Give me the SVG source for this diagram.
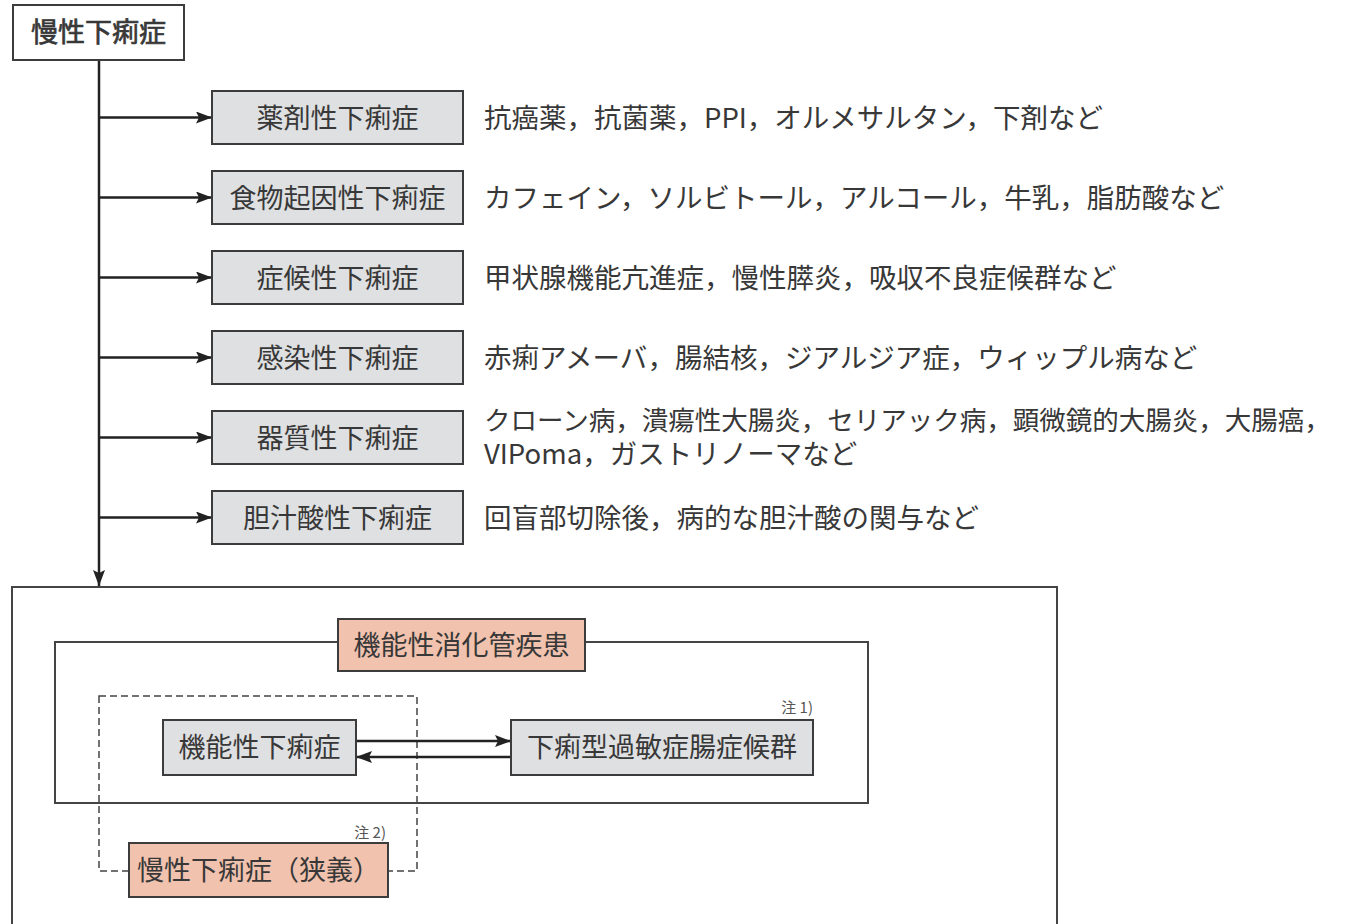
<svg xmlns="http://www.w3.org/2000/svg" width="1348" height="924" viewBox="0 0 1348 924">
<defs>
<style>
.t{font-family:"Noto Sans CJK JP","Noto Sans",sans-serif;fill:#383838;}
.lbl{font-size:27px;text-anchor:middle;}
.desc{font-size:27.5px;}
.note{font-size:15px;fill:#555;}
.gray{fill:#dfe0e2;stroke:#3c3c3c;stroke-width:2;}
.peach{fill:#f1c2ae;stroke:#3c3c3c;stroke-width:2;}
.frame{fill:none;stroke:#444;stroke-width:2;}
.dash{fill:none;stroke:#444;stroke-width:1.5;stroke-dasharray:7 4;}
.con{fill:none;stroke:#222;stroke-width:2.5;}
</style>
<marker id="ah" markerUnits="userSpaceOnUse" markerWidth="17" markerHeight="12" refX="16" refY="6" orient="auto">
<path d="M0,0 L16,6 L0,12 L3,6 Z" fill="#222"/>
</marker>
</defs>
<rect width="1348" height="924" fill="#fff"/>

<g id="outer-frame"><rect class="frame" x="12" y="587" width="1045" height="400"/></g>
<g id="fgid-frame"><rect class="frame" x="55" y="642" width="813" height="161"/></g>
<g id="narrow-dashed"><rect class="dash" x="99" y="696" width="318" height="175"/></g>

<g id="connectors">
<path class="con" d="M99,60 V586" marker-end="url(#ah)"/>
<path class="con" d="M99,117.5 H212" marker-end="url(#ah)"/>
<path class="con" d="M99,197.5 H212" marker-end="url(#ah)"/>
<path class="con" d="M99,277.5 H212" marker-end="url(#ah)"/>
<path class="con" d="M99,357.5 H212" marker-end="url(#ah)"/>
<path class="con" d="M99,437.5 H212" marker-end="url(#ah)"/>
<path class="con" d="M99,517.5 H212" marker-end="url(#ah)"/>
<path class="con" d="M356,741 H511" marker-end="url(#ah)"/>
<path class="con" d="M511,757 H356" marker-end="url(#ah)"/>
</g>

<g id="root">
<rect x="13" y="5" width="171" height="55" fill="#fff" stroke="#3c3c3c" stroke-width="2"/>
<text class="t lbl" x="98.5" y="42" stroke="#383838" stroke-width="0.7">慢性下痢症</text>
</g>

<g id="drug">
<rect class="gray" x="212" y="91" width="251" height="53"/>
<text class="t lbl" x="337.5" y="127.5">薬剤性下痢症</text>
<text class="t desc" x="484" y="127.5">抗癌薬，抗菌薬，PPI，オルメサルタン，下剤など</text>
</g>
<g id="food">
<rect class="gray" x="212" y="171" width="251" height="53"/>
<text class="t lbl" x="337.5" y="207.5">食物起因性下痢症</text>
<text class="t desc" x="484" y="207.5">カフェイン，ソルビトール，アルコール，牛乳，脂肪酸など</text>
</g>
<g id="symptomatic">
<rect class="gray" x="212" y="251" width="251" height="53"/>
<text class="t lbl" x="337.5" y="287.5">症候性下痢症</text>
<text class="t desc" x="484" y="287.5">甲状腺機能亢進症，慢性膵炎，吸収不良症候群など</text>
</g>
<g id="infectious">
<rect class="gray" x="212" y="331" width="251" height="53"/>
<text class="t lbl" x="337.5" y="367.5">感染性下痢症</text>
<text class="t desc" x="484" y="367.5">赤痢アメーバ，腸結核，ジアルジア症，ウィップル病など</text>
</g>
<g id="organic">
<rect class="gray" x="212" y="411" width="251" height="53"/>
<text class="t lbl" x="337.5" y="447.5">器質性下痢症</text>
<text class="t desc"><tspan x="484" y="429.5" font-size="26.5">クローン病，潰瘍性大腸炎，セリアック病，顕微鏡的大腸炎，大腸癌，</tspan><tspan x="484" y="463.5">VIPoma，ガストリノーマなど</tspan></text>
</g>
<g id="bileacid">
<rect class="gray" x="212" y="491" width="251" height="53"/>
<text class="t lbl" x="337.5" y="527.5">胆汁酸性下痢症</text>
<text class="t desc" x="484" y="527.5">回盲部切除後，病的な胆汁酸の関与など</text>
</g>

<g id="fgid">
<rect class="peach" x="338" y="619" width="247" height="52"/>
<text class="t lbl" x="461.5" y="655">機能性消化管疾患</text>
</g>
<g id="functional-diarrhea">
<rect class="gray" x="163" y="720" width="193" height="55"/>
<text class="t lbl" x="259.5" y="757">機能性下痢症</text>
</g>
<g id="ibs-d">
<rect class="gray" x="511" y="720" width="302" height="55"/>
<text class="t lbl" x="662" y="757">下痢型過敏症腸症候群</text>
<text class="t note" x="813" y="713" text-anchor="end">注 1)</text>
</g>
<g id="narrow-chronic">
<rect class="peach" x="129" y="843" width="259" height="54"/>
<text class="t lbl" x="258.5" y="880">慢性下痢症（狭義）</text>
<text class="t note" x="386" y="838" text-anchor="end">注 2)</text>
</g>
</svg>
